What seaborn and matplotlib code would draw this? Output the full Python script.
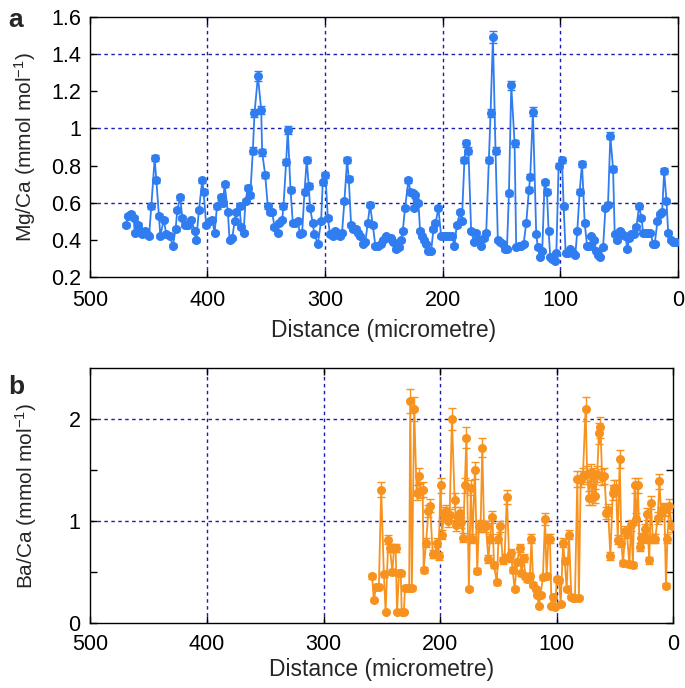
import numpy as np
import pandas as pd
import matplotlib
matplotlib.use("Agg")
import matplotlib.pyplot as plt
import matplotlib.ticker as mticker
import seaborn as sns

# panel a: Mg/Ca profile
mg_dist = [469.4, 467.5, 464.6, 462.7, 461.8, 459.0, 457.6, 455.3, 453.3, 451.3,
           449.6, 447.7, 444.8, 443.4, 441.2, 440.0, 437.2, 434.9, 432.1, 429.3,
           427.0, 425.6, 423.1, 421.4, 419.4, 416.5, 413.7, 410.9, 409.5, 407.2,
           404.4, 403.3, 401.0, 398.2, 395.9, 393.9, 391.9, 388.8, 386.8, 385.4,
           382.6, 381.2, 378.9, 376.9, 375.5, 372.7, 371.3, 369.3, 367.6, 365.6,
           363.6, 361.4, 360.0, 357.1, 354.3, 353.5, 350.9, 348.7, 347.2, 345.0,
           343.0, 340.2, 338.8, 336.5, 335.4, 333.1, 331.7, 329.4, 327.4, 325.2,
           323.2, 321.2, 319.5, 317.5, 315.6, 313.9, 312.7, 310.5, 309.1, 306.2,
           303.4, 302.0, 299.7, 297.7, 295.8, 293.5, 291.5, 289.3, 287.3, 285.6,
           283.6, 281.3, 279.9, 277.9, 276.0, 273.7, 272.3, 270.3, 268.0, 265.8,
           263.8, 261.8, 259.5, 257.3, 255.3,
           252.5, 250.5, 248.2, 246.0, 244.0, 242.0, 239.7, 237.4, 235.5, 234.0,
           232.1, 229.2, 227.5, 225.5, 224.1, 223.3, 220.7, 219.3, 217.6, 215.6,
           214.2, 212.2, 209.9, 207.9, 206.2, 203.7, 201.4, 199.4, 197.2, 194.3,
           192.1, 190.1, 188.1, 185.2, 183.8, 181.6, 180.1, 178.2, 175.9, 173.6,
           171.6, 169.4, 167.4, 165.4, 163.1, 160.9, 159.4, 157.4, 155.2, 153.2,
           151.2, 148.9, 147.0, 145.5, 143.8, 141.8, 139.0, 137.6, 135.3, 133.3,
           131.3, 129.1, 126.8, 125.7, 123.4, 120.6, 119.2, 117.2, 115.5, 113.5,
           111.5, 110.1, 108.7, 107.0, 105.0, 103.5, 101.6, 98.7, 97.3, 95.6,
           93.6, 91.6, 89.4, 87.4, 85.7, 83.7, 81.7, 79.4, 77.4, 75.2,
           73.8, 71.5, 69.5, 68.1, 66.1, 63.8, 61.8, 59.6, 57.6, 55.3,
           53.9, 51.9, 49.6, 47.4, 44.8, 43.1, 41.7, 39.7, 37.7, 35.5,
           33.2, 31.2, 29.8, 27.5, 25.5, 23.5, 21.3, 19.9, 17.6, 15.6,
           13.6, 11.9, 9.9, 8.5, 6.5, 4.3, 2.0]
mg_ca = [0.48, 0.53, 0.54, 0.52, 0.44, 0.48, 0.45, 0.43, 0.45, 0.43,
         0.42, 0.58, 0.84, 0.72, 0.53, 0.42, 0.51, 0.43, 0.42, 0.37,
         0.46, 0.56, 0.63, 0.52, 0.48, 0.48, 0.51, 0.45, 0.40, 0.56,
         0.72, 0.66, 0.48, 0.50, 0.51, 0.44, 0.58, 0.63, 0.60, 0.70,
         0.55, 0.40, 0.41, 0.50, 0.55, 0.58, 0.47, 0.44, 0.61, 0.68,
         0.64, 0.88, 1.08, 1.28, 1.10, 0.87, 0.75, 0.58, 0.55, 0.55,
         0.47, 0.44, 0.49, 0.51, 0.58, 0.82, 0.99, 0.67, 0.49, 0.49,
         0.50, 0.43, 0.44, 0.66, 0.83, 0.69, 0.57, 0.49, 0.43, 0.38,
         0.50, 0.71, 0.75, 0.52, 0.43, 0.42, 0.45, 0.43, 0.42, 0.44,
         0.61, 0.83, 0.73, 0.48, 0.46, 0.46, 0.44, 0.42, 0.38, 0.39,
         0.49, 0.59, 0.48, 0.37, 0.37,
         0.38, 0.40, 0.42, 0.41, 0.41, 0.39, 0.35, 0.36, 0.40, 0.45,
         0.57, 0.72, 0.66, 0.65, 0.57, 0.64, 0.60, 0.45, 0.42, 0.40,
         0.38, 0.34, 0.34, 0.46, 0.49, 0.57, 0.42, 0.42, 0.42, 0.42,
         0.42, 0.37, 0.48, 0.55, 0.50, 0.83, 0.92, 0.88, 0.45, 0.39,
         0.44, 0.40, 0.37, 0.41, 0.44, 0.83, 1.08, 1.49, 0.88, 0.40,
         0.39, 0.38, 0.35, 0.35, 0.65, 1.23, 0.92, 0.36, 0.37, 0.37,
         0.38, 0.49, 0.67, 0.74, 1.09, 0.43, 0.36, 0.31, 0.34, 0.71,
         0.66, 0.45, 0.31, 0.30, 0.29, 0.33, 0.80, 0.83, 0.58, 0.33,
         0.33, 0.35, 0.33, 0.32, 0.45, 0.66, 0.81, 0.49, 0.37, 0.37,
         0.42, 0.40, 0.34, 0.32, 0.31, 0.36, 0.57, 0.59, 0.96, 0.78,
         0.43, 0.40, 0.45, 0.43, 0.42, 0.35, 0.41, 0.43, 0.43, 0.47,
         0.58, 0.52, 0.44, 0.44, 0.44, 0.44, 0.38, 0.38, 0.50, 0.54,
         0.55, 0.77, 0.61, 0.44, 0.40, 0.39, 0.39]

# panel b: Ba/Ca profile
ba_dist = [258.4, 256.9, 254.9, 252.6, 250.6, 248.3, 246.8, 244.5, 243.1, 241.0,
           239.6, 238.2, 237.0, 235.3, 233.8, 233.0, 231.2, 230.1, 228.0, 226.6,
           225.7, 224.3, 222.3, 220.2, 218.5, 217.1, 215.0, 214.2, 212.1, 210.1,
           208.7, 206.4, 204.3, 202.9, 201.4, 199.7, 198.3, 196.8, 194.8, 193.4,
           191.9, 189.9, 187.6, 186.1, 184.7, 183.2, 181.8, 180.3, 178.9, 177.5,
           175.4, 173.7, 172.3, 170.2, 168.2, 166.8, 165.3, 163.9, 162.4, 160.7,
           158.7, 157.2, 155.2, 153.8, 151.4, 150.0, 148.6, 146.2, 144.8, 142.8,
           140.8, 139.3, 137.9, 136.1, 134.1, 131.8, 130.3, 128.3, 126.9, 125.4,
           123.1, 121.7, 120.2, 118.2, 116.8, 115.3, 113.9, 111.9, 110.1, 108.7,
           107.2, 105.8, 104.6, 103.2, 101.4, 100.0, 98.0, 96.6, 94.6, 93.2,
           91.5, 89.5, 87.5, 86.1, 84.4, 82.4, 81.0, 79.5, 77.6, 75.3,
           73.9, 72.4, 71.0, 69.6, 68.2, 66.8, 65.3, 63.9, 62.5, 61.1,
           59.1, 57.4, 56.0, 54.0, 52.0, 50.6, 49.1, 47.7, 46.0, 44.6,
           43.2, 41.2, 39.8, 37.8, 36.1, 34.7, 33.2, 31.8, 30.4, 29.0,
           27.6, 25.6, 24.1, 22.7, 20.7, 19.3, 17.6, 15.6, 13.4, 11.9,
           10.5, 9.1, 7.7, 6.3, 5.1, 3.4, 1.4]
ba_ca = [0.46, 0.23, 0.36, 0.36, 1.31, 0.48, 0.11, 0.82, 0.74, 0.50,
         0.74, 0.74, 0.11, 0.49, 0.49, 0.11, 0.11, 0.35, 0.35, 0.35,
         2.18, 0.35, 2.10, 1.28, 1.44, 1.30, 1.31, 0.52, 0.79, 1.10,
         1.15, 0.68, 0.68, 0.79, 0.66, 1.35, 0.87, 1.08, 1.10, 1.00,
         1.06, 2.00, 1.21, 0.96, 1.03, 1.08, 0.99, 0.84, 1.35, 1.82,
         0.34, 1.33, 0.83, 1.50, 0.51, 0.95, 0.96, 1.72, 0.95, 0.95,
         0.63, 0.83, 1.04, 0.57, 0.40, 0.83, 0.95, 0.62, 0.64, 1.24,
         0.64, 0.69, 0.52, 0.34, 0.60, 0.74, 0.49, 0.64, 0.46, 0.43,
         0.46, 0.83, 0.38, 0.34, 0.28, 0.17, 0.28, 0.45, 1.02, 0.46,
         0.83, 0.83, 0.17, 0.26, 0.16, 0.43, 0.42, 0.19, 0.79, 0.61,
         0.34, 0.87, 0.26, 0.25, 0.25, 1.41, 0.25, 1.41, 1.44, 2.10,
         1.46, 1.23, 1.48, 1.23, 1.44, 1.25, 1.46, 1.86, 1.92, 1.43,
         1.44, 1.08, 1.11, 0.66, 1.28, 1.33, 1.33, 0.82, 1.61, 0.79,
         0.59, 0.90, 0.88, 0.58, 0.96, 0.57, 1.35, 1.02, 1.35, 0.75,
         0.84, 0.83, 0.92, 1.07, 0.62, 1.18, 0.83, 0.83, 1.03, 1.39,
         1.08, 1.12, 1.11, 0.37, 0.83, 1.15, 0.95]

# relative analytical uncertainty
mg_rel_err = 0.02
ba_rel_err = 0.055

mg_df = pd.DataFrame({"distance": mg_dist, "ratio": mg_ca})
ba_df = pd.DataFrame({"distance": ba_dist, "ratio": ba_ca})

blue = "#2f7df0"
orange = "#f7921e"
gridcol = "#1c1cb0"

sns.set_style("ticks")
plt.rcParams["font.family"] = ["Liberation Sans", "DejaVu Sans"]
plt.rcParams["mathtext.fontset"] = "custom"
plt.rcParams["mathtext.rm"] = "Liberation Sans"
plt.rcParams["mathtext.it"] = "Liberation Sans:italic"

fig = plt.figure(figsize=(6.85, 6.88), dpi=100)
ax1 = fig.add_axes([0.131, 0.597, 0.859, 0.379])
ax2 = fig.add_axes([0.132, 0.094, 0.851, 0.371])


def style_axis(ax, xgrid, ygrid, xpad, ypad, lpad):
    for g in xgrid:
        ax.axvline(g, color=gridcol, lw=1.0, ls=(0, (2.5, 2.5)), zorder=0)
    for g in ygrid:
        ax.axhline(g, color=gridcol, lw=1.0, ls=(0, (2.5, 2.5)), zorder=0)
    ax.set_xlim(500, 0)
    ax.set_xticks([500, 400, 300, 200, 100, 0])
    ax.tick_params(which="both", direction="in", top=True, right=True,
                   labelsize=15.5, length=5, width=1, colors="black")
    ax.tick_params(axis="x", pad=xpad)
    ax.tick_params(axis="y", pad=ypad)
    for s in ax.spines.values():
        s.set_linewidth(1.0)
        s.set_color("black")
    ax.set_xlabel("Distance (micrometre)", fontsize=16.5, labelpad=lpad)


# panel a
ax1.errorbar(mg_df["distance"], mg_df["ratio"], yerr=mg_df["ratio"] * mg_rel_err,
             fmt="none", ecolor=blue, elinewidth=1, capsize=3, zorder=2)
sns.lineplot(data=mg_df, x="distance", y="ratio", ax=ax1, color=blue, lw=1.3,
             marker="o", markersize=6.5, markeredgewidth=0, sort=False, zorder=3)
style_axis(ax1, [400, 300, 200, 100], [0.6, 1.0, 1.4], 9, 6, 6)
ax1.set_ylim(0.2, 1.6)
ax1.set_yticks([0.2, 0.4, 0.6, 0.8, 1.0, 1.2, 1.4, 1.6])
ax1.yaxis.set_major_formatter(mticker.FormatStrFormatter("%g"))
ax1.set_ylabel("Mg/Ca (mmol mol$^{-1}$)", fontsize=15)
ax1.yaxis.set_label_coords(-0.088, 0.5)

# panel b
ax2.errorbar(ba_df["distance"], ba_df["ratio"], yerr=ba_df["ratio"] * ba_rel_err,
             fmt="none", ecolor=orange, elinewidth=1, capsize=3, zorder=2)
sns.lineplot(data=ba_df, x="distance", y="ratio", ax=ax2, color=orange, lw=1.3,
             marker="o", markersize=6.5, markeredgewidth=0, sort=False, zorder=3)
style_axis(ax2, [400, 300, 200, 100], [1, 2], 8, 7, 2)
ax2.set_ylim(0, 2.5)
ax2.set_yticks([0, 1, 2])
ax2.set_yticks([0.5, 1.5], minor=True)
ax2.set_ylabel("Ba/Ca (mmol mol$^{-1}$)", fontsize=15)
ax2.yaxis.set_label_coords(-0.088, 0.5)

fig.text(0.012, 0.988, "a", fontsize=19, fontweight="bold", va="top")
fig.text(0.012, 0.455, "b", fontsize=19, fontweight="bold", va="top")

fig.savefig("out.png", dpi=100)
